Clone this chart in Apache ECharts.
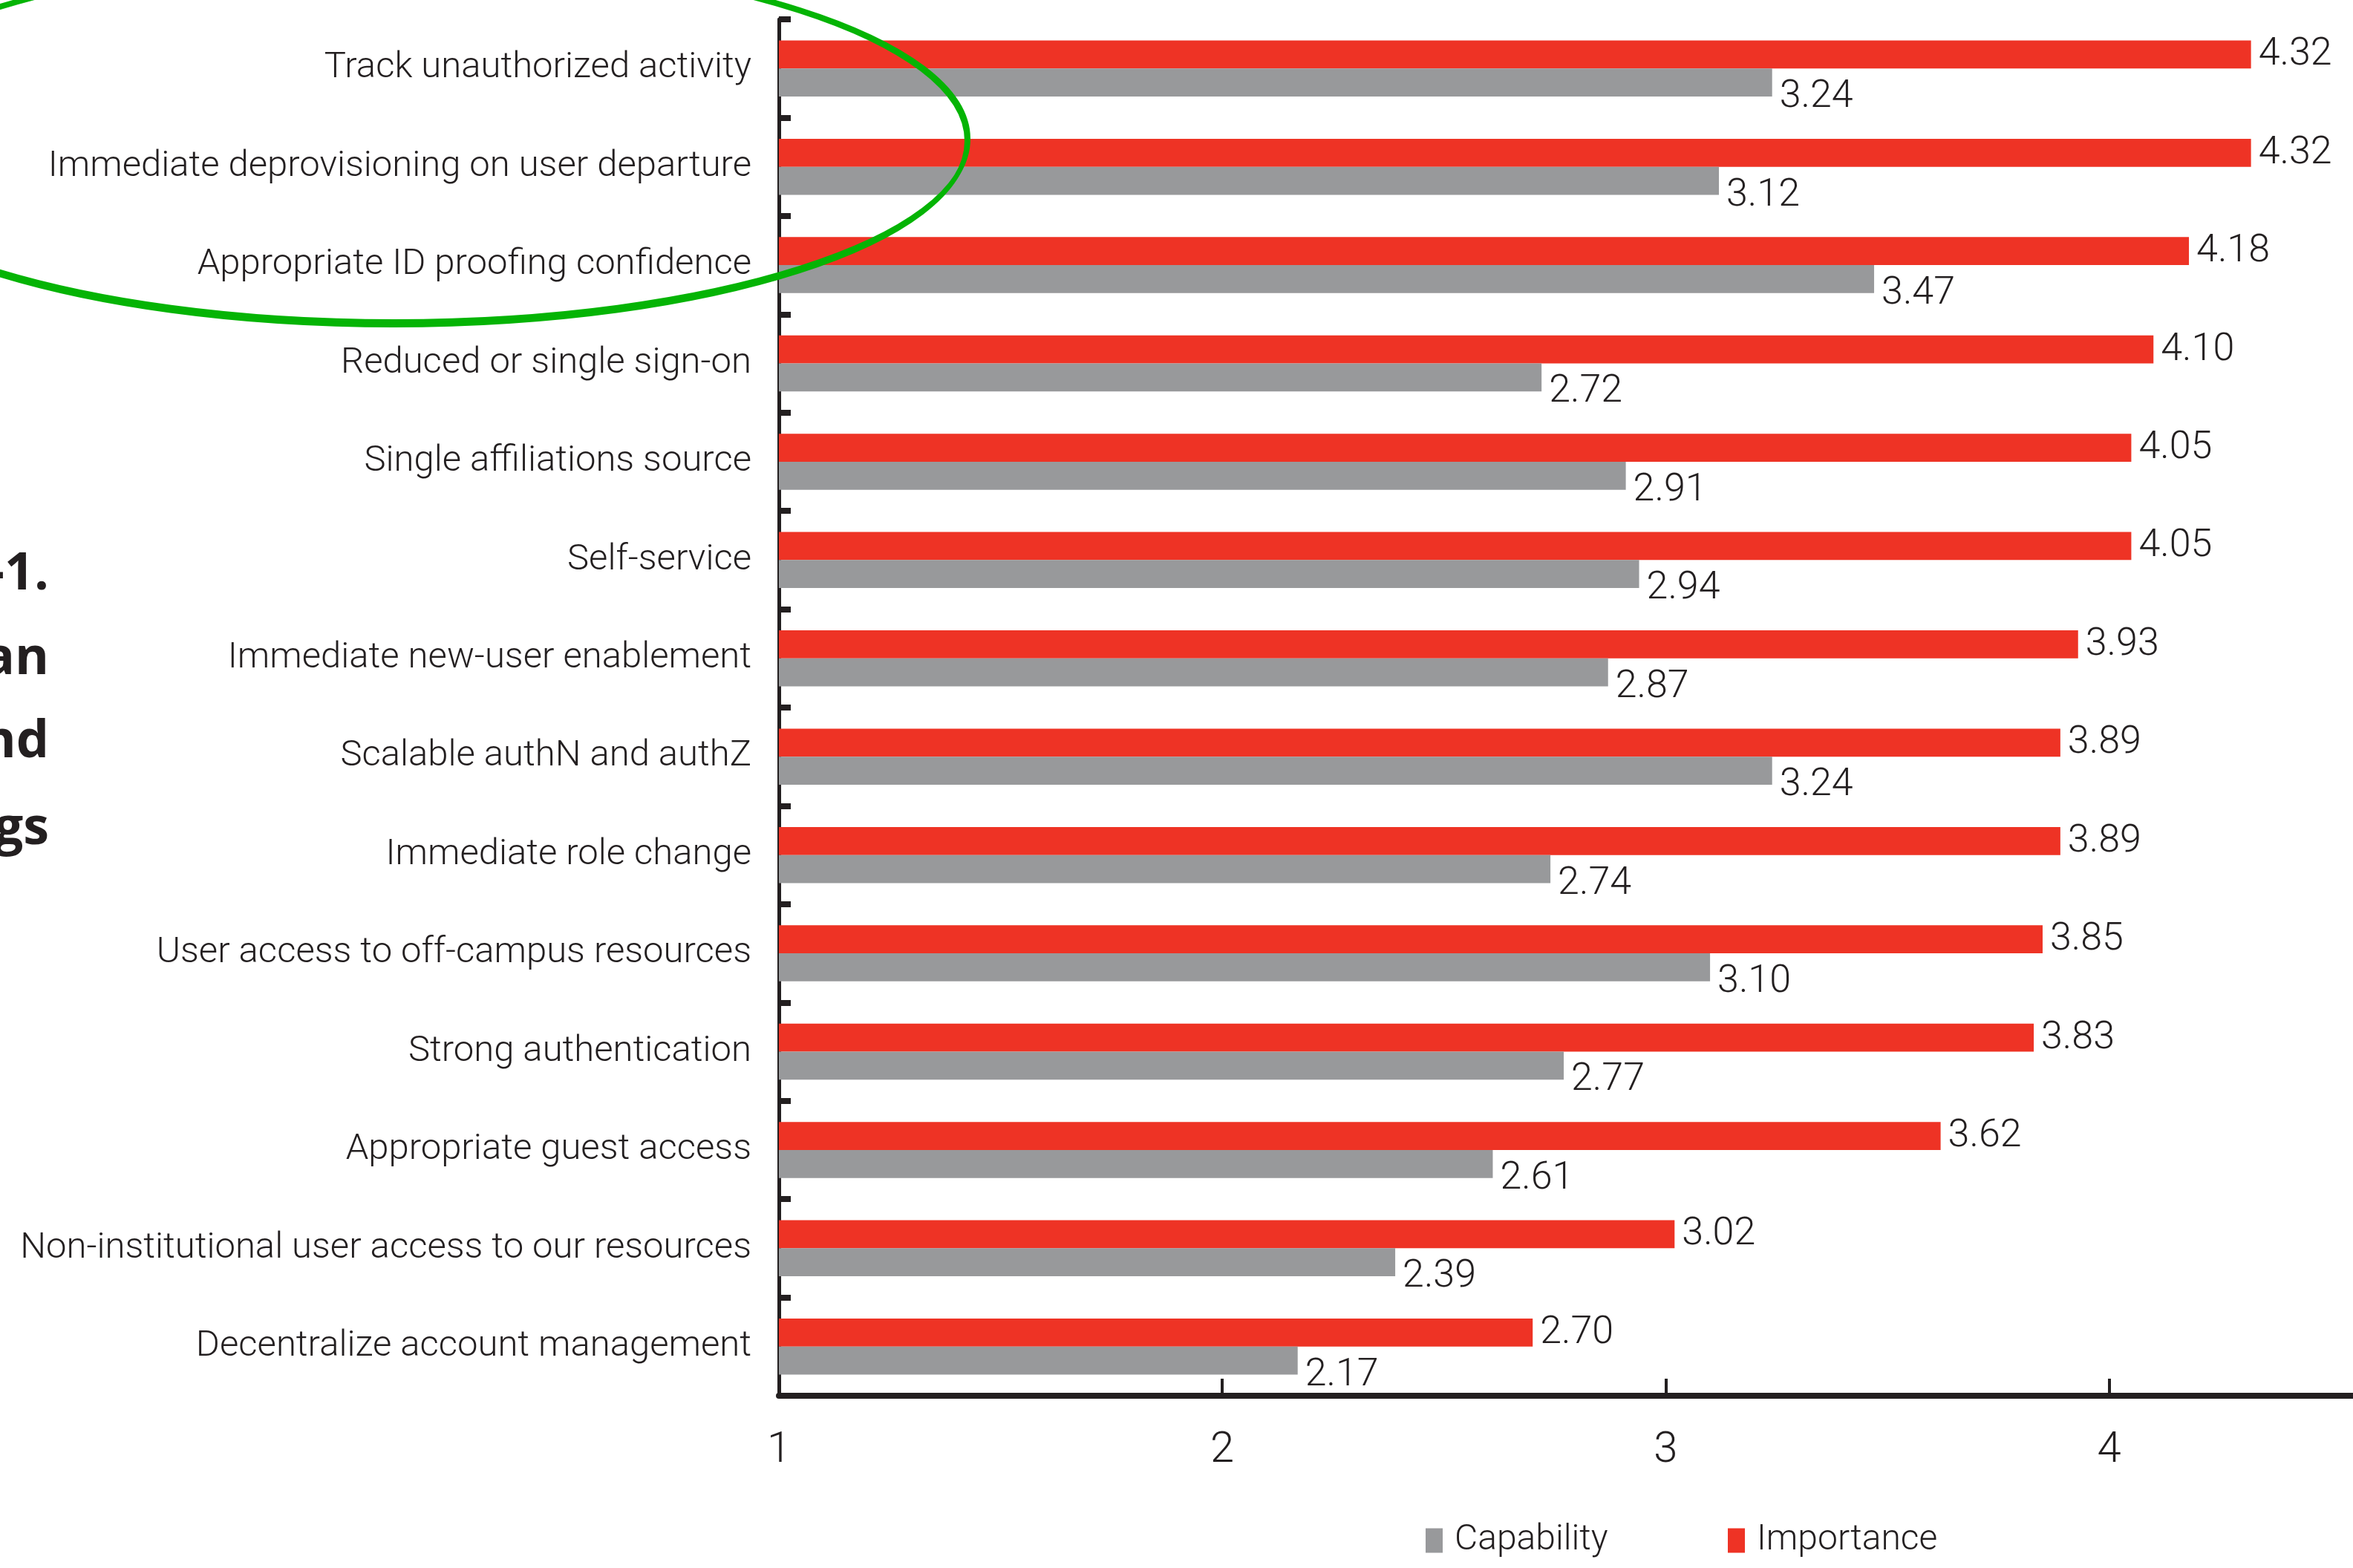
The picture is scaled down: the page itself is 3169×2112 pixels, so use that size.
<!DOCTYPE html>
<html>
<head>
<meta charset="utf-8">
<script src="https://cdn.jsdelivr.net/npm/echarts@6/dist/echarts.min.js"></script>
<style>
html,body{margin:0;padding:0;background:#fff;}
#chart{width:3169px;height:2112px;}
</style>
</head>
<body>
<div id="chart"></div>
<script>
const categories = [
  "Track unauthorized activity",
  "Immediate deprovisioning on user departure",
  "Appropriate ID proofing confidence",
  "Reduced or single sign-on",
  "Single affiliations source",
  "Self-service",
  "Immediate new-user enablement",
  "Scalable authN and authZ",
  "Immediate role change",
  "User access to off-campus resources",
  "Strong authentication",
  "Appropriate guest access",
  "Non-institutional user access to our resources",
  "Decentralize account management"
];
const importance = [4.32, 4.32, 4.18, 4.10, 4.05, 4.05, 3.93, 3.89, 3.89, 3.85, 3.83, 3.62, 3.02, 2.70];
const capability = [3.24, 3.12, 3.47, 2.72, 2.91, 2.94, 2.87, 3.24, 2.74, 3.10, 2.77, 2.61, 2.39, 2.17];
const xTickLabels = [1, 2, 3, 4];
const titleFragments = ["-1.", "an", "nd", "gs"];
const seriesNames = ["Capability", "Importance"];

const TXT = '#231F20';
const RED = '#EE3325';
const GRAY = '#98999B';
const GREEN = '#05B405';
const FONT = 'Roboto, sans-serif';

const chart = echarts.init(document.getElementById('chart'), null, {renderer: 'canvas'});

const titleGraphics = titleFragments.map((t, i) => ({
  type: 'text',
  x: 66,
  y: [774, 888, 1000, 1117][i],
  style: {
    text: t,
    fill: TXT,
    font: 'bold 70px "Open Sans", sans-serif',
    textAlign: 'right',
    textVerticalAlign: 'middle'
  },
  z: 10
}));

const option = {
  animation: false,
  backgroundColor: '#ffffff',
  grid: {left: 1049, right: 0, top: 26, bottom: 232, containLabel: false, outerBoundsMode: 'none'},
  legend: [
    {
      data: [{name: seriesNames[0], icon: 'rect'}],
      left: 1915, top: 2046,
      itemWidth: 23, itemHeight: 33,
      textStyle: {color: TXT, fontSize: 48, fontFamily: FONT, fontWeight: 300, padding: [0, 0, 0, 11]}
    },
    {
      data: [{name: seriesNames[1], icon: 'rect'}],
      left: 2322, top: 2046,
      itemWidth: 23, itemHeight: 33,
      textStyle: {color: TXT, fontSize: 48, fontFamily: FONT, fontWeight: 300, padding: [0, 0, 0, 11]}
    }
  ],
  xAxis: {
    type: 'value',
    min: 1, max: 4.55, interval: 1,
    splitLine: {show: false},
    axisLine: {show: true, lineStyle: {color: TXT, width: 8}},
    axisTick: {show: true, inside: true, length: 23, lineStyle: {color: TXT, width: 4}},
    axisLabel: {
      color: TXT, fontSize: 58, fontFamily: FONT, fontWeight: 300, margin: 45,
      showMaxLabel: false,
      formatter: v => (xTickLabels.indexOf(v) >= 0 ? String(v) : '')
    }
  },
  yAxis: {
    type: 'category',
    data: categories,
    inverse: true,
    axisLine: {show: true, lineStyle: {color: TXT, width: 5}},
    axisTick: {show: true, inside: true, length: 16, lineStyle: {color: TXT, width: 8}},
    axisLabel: {color: TXT, fontSize: 49, fontFamily: FONT, fontWeight: 300, margin: 37}
  },
  series: [
    {
      name: seriesNames[1],
      type: 'bar',
      data: importance,
      itemStyle: {color: RED},
      barGap: '0%',
      barCategoryGap: '43%',
      label: {
        show: true, position: 'right', distance: 10, offset: [0, 1],
        color: TXT, fontSize: 52, fontFamily: FONT, fontWeight: 300,
        formatter: p => p.value.toFixed(2)
      }
    },
    {
      name: seriesNames[0],
      type: 'bar',
      data: capability,
      itemStyle: {color: GRAY},
      barGap: '0%',
      barCategoryGap: '43%',
      label: {
        show: true, position: 'right', distance: 10, offset: [0, 20],
        color: TXT, fontSize: 52, fontFamily: FONT, fontWeight: 300,
        formatter: p => p.value.toFixed(2)
      }
    }
  ],
  graphic: [
    ...titleGraphics,
    {
      type: 'ellipse',
      shape: {cx: 531, cy: 187, rx: 773, ry: 246},
      style: {fill: 'none', stroke: GREEN, lineWidth: 6},
      z: 100
    },
    {
      type: 'ellipse',
      shape: {cx: 530, cy: 190, rx: 772, ry: 248},
      style: {fill: 'none', stroke: GREEN, lineWidth: 6},
      z: 100
    },
    {
      type: 'ellipse',
      shape: {cx: 533, cy: 189, rx: 770, ry: 245},
      style: {fill: 'none', stroke: GREEN, lineWidth: 2, opacity: 0.7},
      z: 100
    }
  ]
};
chart.setOption(option);
</script>
</body>
</html>
